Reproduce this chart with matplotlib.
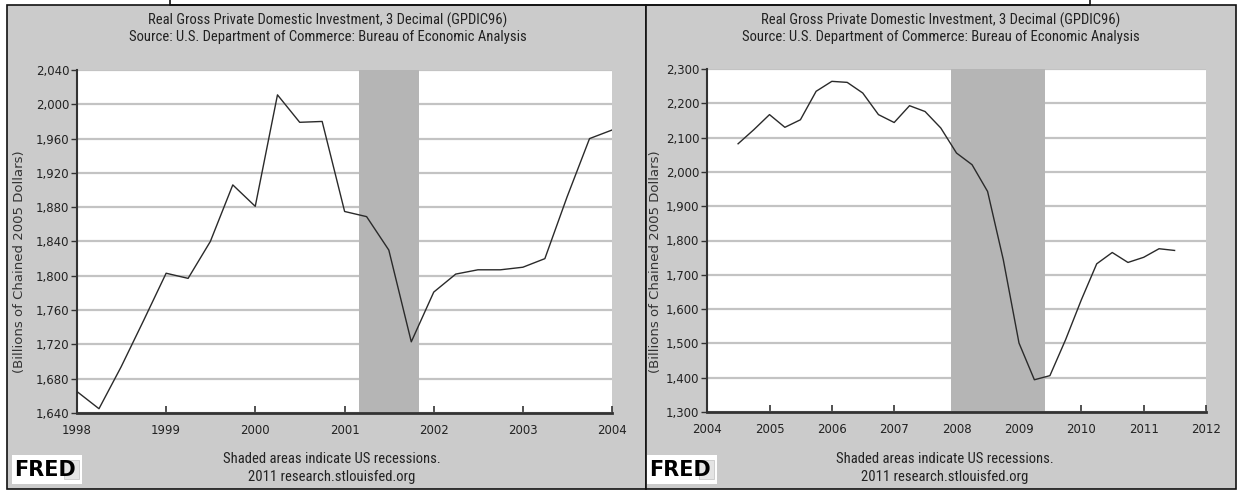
import matplotlib
matplotlib.use('Agg')
import matplotlib.pyplot as plt
import matplotlib.dates as mdates
from matplotlib import font_manager as fm
from matplotlib.patches import Rectangle
from matplotlib.ticker import FuncFormatter
import pandas as pd

# data (quarterly, billions of chained 2005 dollars)
left_dates = pd.date_range('1998-01-01', '2004-01-01', freq='QS')
left_values = [1665, 1645, 1694, 1748, 1803, 1797, 1840, 1906, 1881, 2011,
               1979, 1980, 1875, 1869, 1830, 1723, 1781, 1802, 1807, 1807,
               1810, 1820, 1892, 1960, 1970]
left_recession = ('2001-03-01', '2001-11-01')
left_years = list(range(1998, 2005))
left_yticks = list(range(1640, 2041, 40))

right_dates = pd.date_range('2004-07-01', '2011-07-01', freq='QS')
right_values = [2082, 2123, 2167, 2130, 2152, 2235, 2264, 2261, 2230, 2167,
                2144, 2193, 2176, 2128, 2055, 2021, 1943, 1744, 1501, 1394,
                1406, 1511, 1627, 1732, 1765, 1736, 1751, 1776, 1771]
right_recession = ('2007-12-01', '2009-06-01')
right_years = list(range(2004, 2013))
right_yticks = list(range(1300, 2301, 100))

title1 = 'Real Gross Private Domestic Investment, 3 Decimal (GPDIC96)'
title2 = 'Source: U.S. Department of Commerce: Bureau of Economic Analysis'
ylabel = '(Billions of Chained 2005 Dollars)'
foot1 = 'Shaded areas indicate US recessions.'
foot2 = '2011 research.stlouisfed.org'


def pick(names):
    for n in names:
        try:
            fm.findfont(fm.FontProperties(family=n), fallback_to_default=False)
            return n
        except ValueError:
            pass
    return None


narrow = pick(['Liberation Sans Narrow', 'DejaVu Sans Condensed', 'Roboto Condensed'])
if narrow:
    nfont, nsize = narrow, 10.5
else:
    nfont, nsize = 'DejaVu Sans', 8

W, H = 1238, 491
fig = plt.figure(figsize=(W / 100, H / 100), dpi=100)
fig.patch.set_facecolor('white')

# pixel-space background layer
bg = fig.add_axes([0, 0, 1, 1], zorder=-5)
bg.set_xlim(0, W)
bg.set_ylim(H, 0)
bg.axis('off')

panel_gray = '#cbcbcb'
bg.add_patch(Rectangle((7, 5), 639, 484, facecolor=panel_gray, edgecolor='#111', lw=1.2))
bg.add_patch(Rectangle((646, 5), 590, 484, facecolor=panel_gray, edgecolor='#111', lw=1.2))
bg.plot([170, 170, 1090, 1090], [0, 4.5, 4.5, 0], color='#111', lw=1.2)


def px(l, t, r, b):
    return [l / W, 1 - b / H, (r - l) / W, (b - t) / H]


def draw_panel(rect, dates, values, recession, years, yticks, cx, ylab_x):
    ax = fig.add_axes(px(*rect))
    ax.set_facecolor('white')
    ax.set_axisbelow(True)
    ax.grid(axis='y', color='#c3c3c3', lw=1.6)
    ax.axvspan(pd.Timestamp(recession[0]), pd.Timestamp(recession[1]),
               color='#b5b5b5', lw=0, zorder=1)
    ax.plot(dates, values, color='#2a2a2a', lw=1.0, zorder=3)

    ax.set_xlim(pd.Timestamp(f'{years[0]}-01-01'), pd.Timestamp(f'{years[-1]}-01-01'))
    ax.set_ylim(yticks[0], yticks[-1])
    ax.set_xticks([pd.Timestamp(f'{y}-01-01') for y in years])
    ax.xaxis.set_major_formatter(mdates.DateFormatter('%Y'))
    ax.set_yticks(yticks)
    ax.yaxis.set_major_formatter(FuncFormatter(lambda v, p: f'{int(v):,}'))

    for s in ['top', 'right']:
        ax.spines[s].set_visible(False)
    ax.spines['left'].set_color('#333')
    ax.spines['left'].set_linewidth(1.5)
    ax.spines['bottom'].set_color('#333')
    ax.spines['bottom'].set_linewidth(2)
    ax.tick_params(axis='y', direction='out', length=4, width=1, color='#333',
                   labelsize=8.5, labelcolor='#222', pad=1.5)
    ax.tick_params(axis='x', direction='in', length=5, width=1.2, color='#333',
                   labelsize=8.5, labelcolor='#222', pad=8)

    bg.text(cx, 20, title1, ha='center', va='center', fontsize=nsize,
            family=nfont, color='#222')
    bg.text(cx, 37, title2, ha='center', va='center', fontsize=nsize,
            family=nfont, color='#222')
    bg.text(cx + 4, 459, foot1, ha='center', va='center', fontsize=nsize,
            family=nfont, color='#222')
    bg.text(cx + 4, 477, foot2, ha='center', va='center', fontsize=nsize,
            family=nfont, color='#222')
    bg.text(ylab_x, 262, ylabel, rotation=90, ha='center', va='center',
            fontsize=9.5, color='#333')

    # FRED logo
    lx = ylab_x - 8
    bg.add_patch(Rectangle((lx, 455), 70, 29, facecolor='white', edgecolor='none'))
    bg.text(lx + 2, 470, 'FRED', ha='left', va='center', fontsize=15,
            fontweight='bold', color='black')
    bg.add_patch(Rectangle((lx + 52, 460), 15, 19, facecolor='#e4e4e4',
                           edgecolor='#c8c8c8', lw=0.6))
    return ax


draw_panel((77, 70, 612, 413), left_dates, left_values, left_recession,
           left_years, left_yticks, 328, 20)
draw_panel((707, 69, 1206, 412), right_dates, right_values, right_recession,
           right_years, right_yticks, 941, 655)

fig.savefig('out.png', dpi=100, facecolor='white')
